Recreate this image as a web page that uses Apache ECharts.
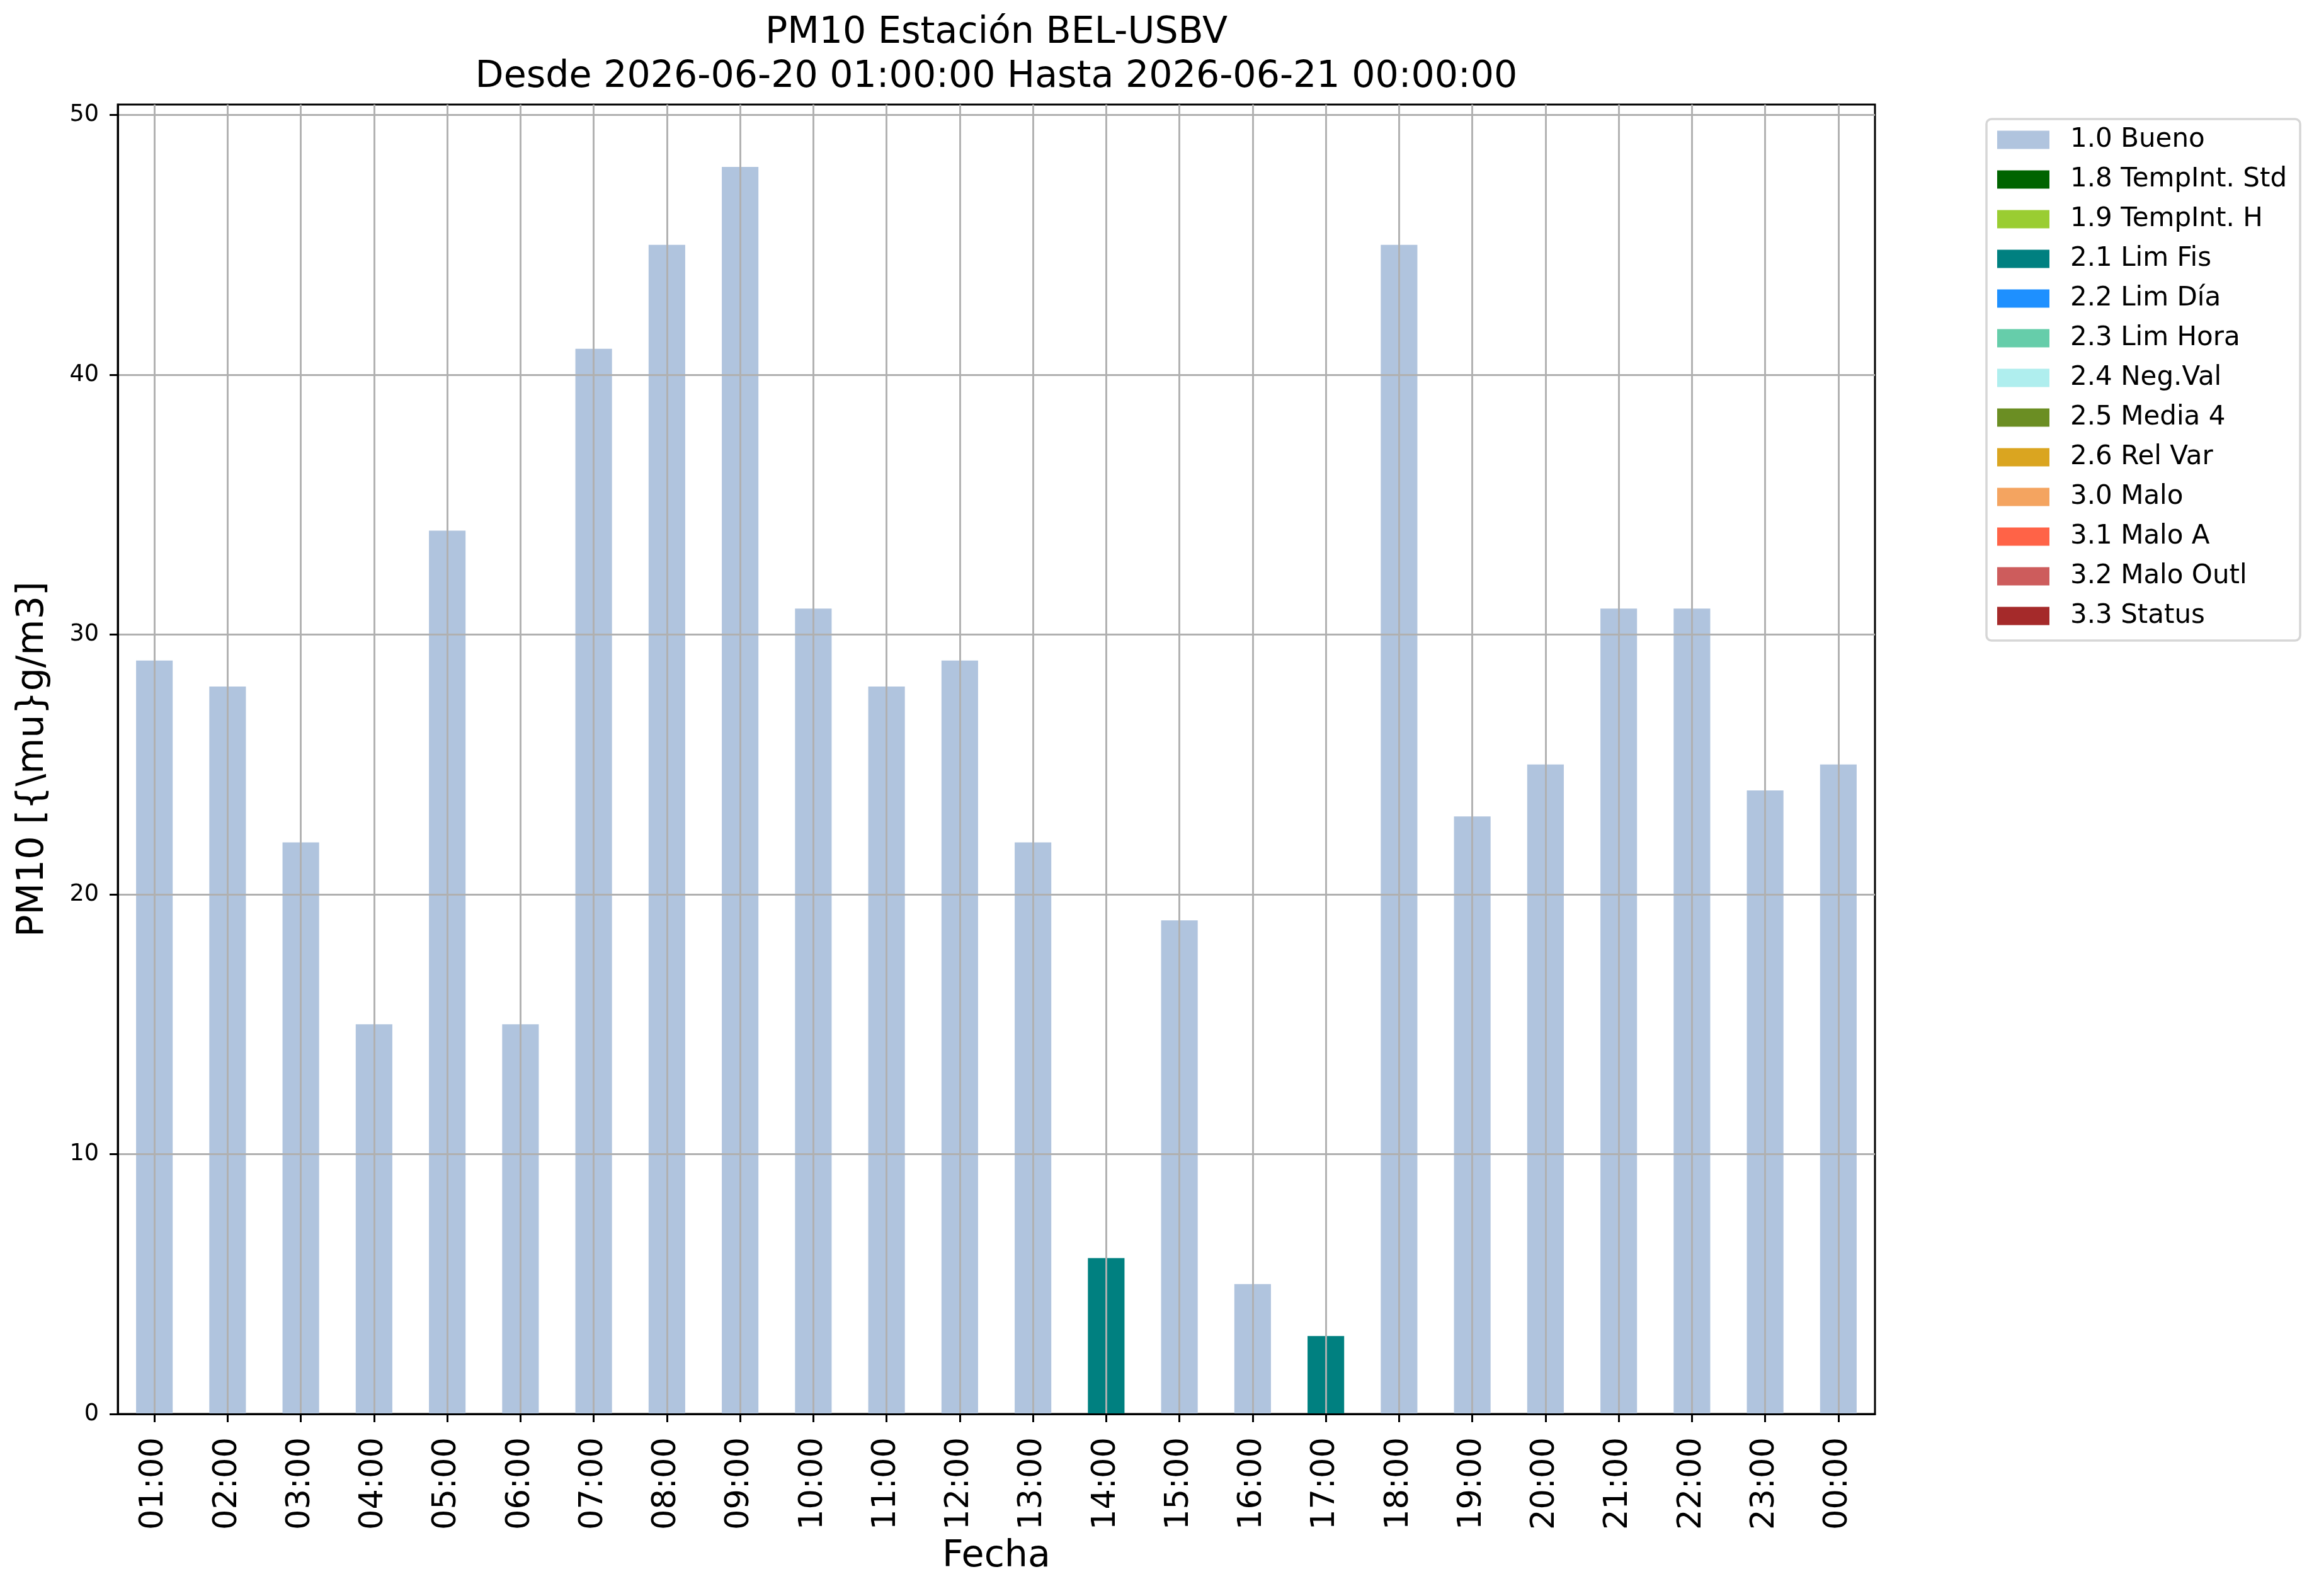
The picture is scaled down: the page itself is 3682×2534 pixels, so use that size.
<!DOCTYPE html>
<html>
<head>
<meta charset="utf-8">
<script src="https://cdn.jsdelivr.net/npm/echarts@6/dist/echarts.min.js"></script>
<style>
  html, body { margin: 0; padding: 0; background: #fff; }
  #chart { width: 3682px; height: 2534px; }
</style>
</head>
<body>
<div id="chart"></div>
<script>
// PM10 por hora, estación BEL-USBV
const horas = ['01:00', '02:00', '03:00', '04:00', '05:00', '06:00', '07:00', '08:00',
               '09:00', '10:00', '11:00', '12:00', '13:00', '14:00', '15:00', '16:00',
               '17:00', '18:00', '19:00', '20:00', '21:00', '22:00', '23:00', '00:00'];

const bueno  = [29, 28, 22, 15, 34, 15, 41, 45, 48, 31, 28, 29, 22, null, 19, 5, null, 45, 23, 25, 31, 31, 24, 25];
const limFis = [null, null, null, null, null, null, null, null, null, null, null, null, null, 6, null, null, 3, null, null, null, null, null, null, null];

const yTicks = [0, 10, 20, 30, 40, 50];

const flags = ['1.0 Bueno', '1.8 TempInt. Std', '1.9 TempInt. H', '2.1 Lim Fis', '2.2 Lim Día',
               '2.3 Lim Hora', '2.4 Neg.Val', '2.5 Media 4', '2.6 Rel Var', '3.0 Malo',
               '3.1 Malo A', '3.2 Malo Outl', '3.3 Status'];
const flagColors = ['#b0c4de', '#006400', '#9acd32', '#008080', '#1e90ff',
                    '#66cdaa', '#afeeee', '#6b8e23', '#daa520', '#f4a460',
                    '#ff6347', '#cd5c5c', '#a52a2a'];

const FONT = 'DejaVu Sans';
const chart = echarts.init(document.getElementById('chart'));

function serieDe(i) {
    let data = [];
    if (i === 0) data = bueno;
    if (i === 3) data = limFis;
    return {
        name: flags[i],
        type: 'bar',
        stack: 'total',
        barWidth: '50%',
        itemStyle: { color: flagColors[i] },
        data: data,
        z: 2,
    };
}

const series = flags.map((f, i) => serieDe(i));

// rejilla por encima de las barras, como en matplotlib
series.push({
    name: 'rejilla',
    type: 'line',
    data: [],
    z: 3,
    silent: true,
    markLine: {
        silent: true,
        symbol: ['none', 'none'],
        animation: false,
        label: { show: false },
        lineStyle: { type: 'solid', color: '#b0b0b0', width: 2.9 },
        data: horas.map(h => ({ xAxis: h })).concat(yTicks.map(v => ({ yAxis: v }))),
    },
});

chart.setOption({
    animation: false,
    backgroundColor: '#fff',
    textStyle: { fontFamily: FONT, color: '#000' },
    title: {
        text: 'PM10 Estación BEL-USBV\nDesde 2026-06-20 01:00:00 Hasta 2026-06-21 00:00:00',
        left: 1582,
        top: 18,
        padding: 0,
        textAlign: 'center',
        textStyle: { fontFamily: FONT, fontSize: 58.6, lineHeight: 70, fontWeight: 'normal', color: '#000' },
    },
    grid: {
        left: 187, right: 705, top: 166, bottom: 289,
        show: true, borderColor: '#000', borderWidth: 3, backgroundColor: 'transparent',
    },
    legend: {
        orient: 'vertical',
        left: 3154,
        top: 189,
        data: flags,
        icon: 'rect',
        itemWidth: 83,
        itemHeight: 29,
        itemGap: 21,
        padding: [12, 21, 18, 17],
        borderColor: '#d6d6d6',
        borderWidth: 3.5,
        borderRadius: 8,
        backgroundColor: '#fff',
        selectedMode: false,
        textStyle: { fontFamily: FONT, fontSize: 42, lineHeight: 42, color: '#000', padding: [0, 0, 0, 28] },
    },
    xAxis: {
        type: 'category',
        data: horas,
        z: 6,
        name: 'Fecha',
        nameLocation: 'middle',
        nameGap: 192,
        nameTextStyle: { fontFamily: FONT, fontSize: 58.6, lineHeight: 70, color: '#000', verticalAlign: 'top' },
        axisLine: { show: true, lineStyle: { color: '#000', width: 3 } },
        axisTick: { show: true, alignWithLabel: true, length: 13, lineStyle: { color: '#000', width: 3 } },
        axisLabel: { rotate: 90, fontFamily: FONT, fontSize: 51, color: '#000', margin: 37, interval: 0 },
        splitLine: { show: false },
    },
    yAxis: {
        type: 'value',
        min: 0,
        max: 50.4,
        interval: 10,
        z: 6,
        name: 'PM10 [{\\mu}g/m3]',
        nameLocation: 'middle',
        nameGap: 99,
        nameTextStyle: { fontFamily: FONT, fontSize: 58.6, lineHeight: 70, color: '#000' },
        axisLine: { show: true, lineStyle: { color: '#000', width: 3 } },
        axisTick: { show: true, length: 13, customValues: yTicks, lineStyle: { color: '#000', width: 3 } },
        axisLabel: {
            fontFamily: FONT, fontSize: 36.6, color: '#000', margin: 30,
            customValues: yTicks,
            formatter: v => (v % 10 === 0 ? String(v) : ''),
        },
        splitLine: { show: false },
    },
    series: series,
});
</script>
</body>
</html>
